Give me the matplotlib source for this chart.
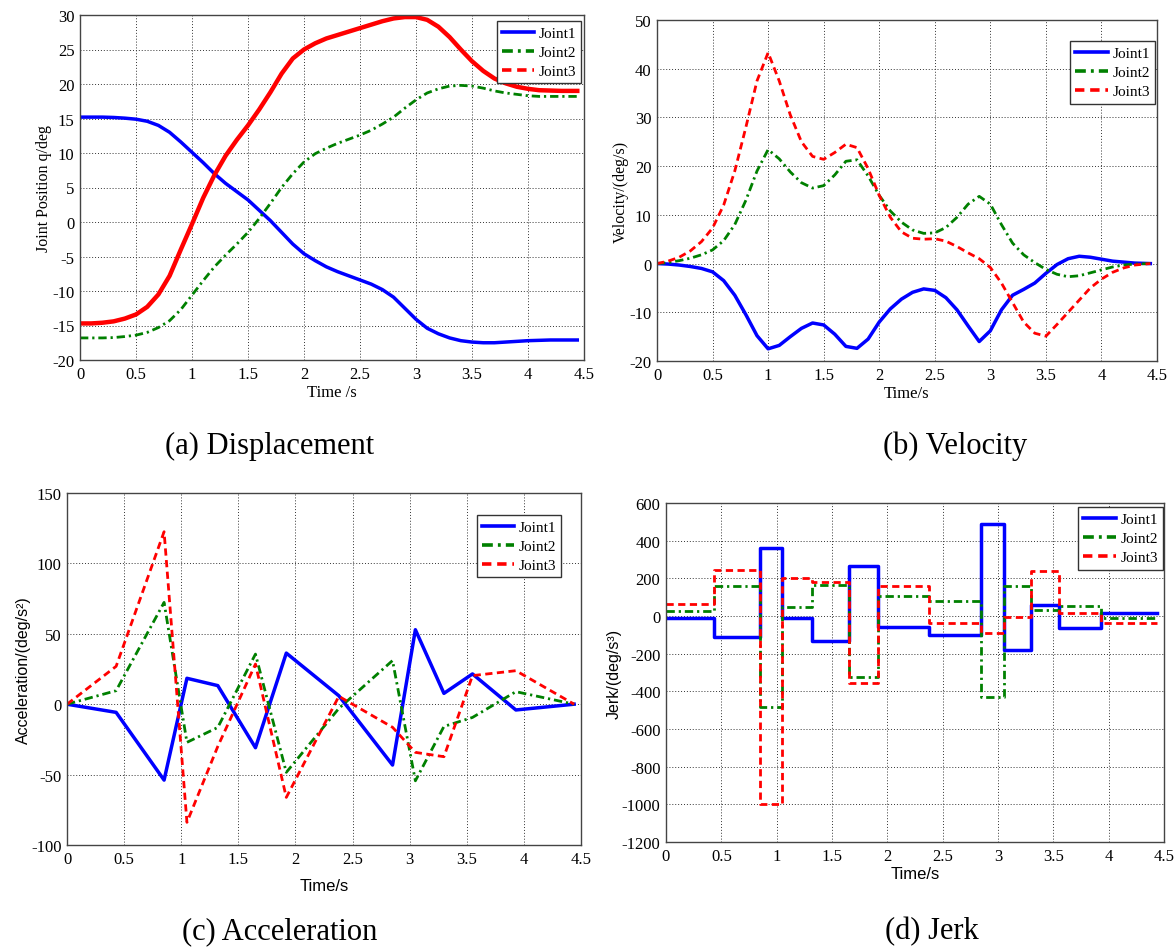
import numpy as np
import matplotlib
matplotlib.use("Agg")
import matplotlib.pyplot as plt
from matplotlib.lines import Line2D
from matplotlib.ticker import FuncFormatter

plt.rcParams['axes.unicode_minus'] = False
SERIF = 'Liberation Serif'
SANS = 'Liberation Sans'

# sample times for the smooth curves (s)
t = [0.0, 0.1, 0.2, 0.3, 0.4, 0.5, 0.6, 0.7, 0.8, 0.9,
     1.0, 1.1, 1.2, 1.3, 1.4, 1.5, 1.6, 1.7, 1.8, 1.9,
     2.0, 2.1, 2.2, 2.3, 2.4, 2.5, 2.6, 2.7, 2.8, 2.9,
     3.0, 3.1, 3.2, 3.3, 3.4, 3.5, 3.6, 3.7, 3.8, 3.9,
     4.0, 4.1, 4.2, 4.3, 4.44]

# joint positions (deg)
q1 = [15.2, 15.2, 15.2, 15.15, 15.05, 14.9, 14.6, 14.0, 13.0, 11.6,
      10.1, 8.6, 7.0, 5.6, 4.4, 3.2, 1.7, 0.2, -1.5, -3.2,
      -4.6, -5.6, -6.5, -7.2, -7.8, -8.4, -9.0, -9.8, -10.9, -12.5,
      -14.1, -15.4, -16.2, -16.8, -17.2, -17.4, -17.5, -17.5, -17.4, -17.3,
      -17.2, -17.15, -17.1, -17.1, -17.1]
q2 = [-16.8, -16.8, -16.8, -16.75, -16.6, -16.4, -16.0, -15.3, -14.3, -12.7,
      -10.6, -8.5, -6.5, -4.8, -3.2, -1.5, 0.5, 2.7, 5.0, 7.0,
      8.7, 9.9, 10.7, 11.4, 12.0, 12.6, 13.3, 14.2, 15.2, 16.5,
      17.7, 18.7, 19.3, 19.7, 19.8, 19.7, 19.4, 19.0, 18.7, 18.5,
      18.3, 18.2, 18.2, 18.2, 18.2]
q3 = [-14.7, -14.7, -14.6, -14.4, -14.0, -13.4, -12.3, -10.5, -7.8, -4.0,
      -0.3, 3.5, 6.8, 9.6, 11.9, 14.0, 16.3, 18.8, 21.5, 23.7,
      25.0, 25.9, 26.6, 27.1, 27.6, 28.1, 28.6, 29.1, 29.5, 29.7,
      29.7, 29.3, 28.3, 26.8, 25.0, 23.3, 21.9, 20.8, 20.1, 19.6,
      19.3, 19.1, 19.05, 19.0, 19.0]

# joint velocities (deg/s)
v1 = [0.0, -0.1, -0.3, -0.6, -1.0, -1.7, -3.5, -6.5, -10.5, -14.8,
      -17.5, -16.8, -15.0, -13.3, -12.2, -12.6, -14.5, -17.0, -17.4, -15.5,
      -12.0, -9.3, -7.3, -5.9, -5.2, -5.5, -7.0, -9.5, -12.8, -16.0,
      -13.8, -9.5, -6.5, -5.3, -4.0, -2.0, -0.2, 1.0, 1.5, 1.3,
      0.9, 0.5, 0.3, 0.1, 0.0]
v2 = [0.0, 0.2, 0.6, 1.1, 1.8, 2.8, 4.7, 8.0, 13.0, 19.0,
      23.4, 21.5, 18.8, 16.6, 15.5, 16.0, 18.2, 21.0, 21.3, 18.0,
      14.0, 10.8, 8.5, 6.9, 6.2, 6.3, 7.4, 9.5, 12.2, 13.8,
      12.2, 8.0, 4.2, 1.8, 0.2, -1.2, -2.2, -2.7, -2.5, -1.9,
      -1.3, -0.7, -0.3, -0.1, 0.0]
v3 = [0.0, 0.5, 1.3, 2.6, 4.5, 7.3, 12.0, 19.0, 28.0, 37.5,
      43.3, 37.5, 30.5, 25.0, 22.0, 21.4, 22.8, 24.5, 23.8, 19.5,
      14.0, 9.5, 6.5, 5.2, 5.0, 5.1, 4.6, 3.5, 2.2, 1.0,
      -0.8, -4.0, -8.0, -12.0, -14.3, -14.9, -12.5, -10.0, -7.5, -5.0,
      -3.2, -1.8, -0.9, -0.3, 0.0]

# knot times of the piecewise trajectory (s)
knots = [0.0, 0.43, 0.85, 1.05, 1.32, 1.65, 1.92, 2.38, 2.85, 3.05,
         3.30, 3.55, 3.93, 4.44]

# accelerations at the knots (deg/s^2)
a1 = [0.0, -5.8, -53.9, 18.4, 13.2, -30.9, 36.3, 6.0, -43.2, 52.9,
      7.7, 21.5, -4.1, 0.0]
a2 = [0.0, 9.6, 72.3, -27.1, -16.5, 35.6, -48.4, -3.0, 31.0, -54.4,
      -15.8, -9.4, 8.9, 0.0]
a3 = [0.0, 26.9, 122.5, -83.9, -30.0, 28.5, -66.2, 5.6, -16.4, -34.2,
      -37.3, 20.3, 23.8, 0.0]

# jerk on each knot interval (deg/s^3)
j1 = [-8, -113, 359, -12, -131, 263, -60, -101, 488, -179, 60, -64, 14]
j2 = [25, 157, -481, 46, 164, -325, 104, 80, -431, 157, 32, 53, -12]
j3 = [64, 244, -1000, 200, 182, -355, 161, -39, -90, -7, 237, 16, -39]

labels = ['Joint1', 'Joint2', 'Joint3']
BLUE, GREEN, RED = '#0000ff', '#008000', '#ff0000'
LW = 2.0
DASH = (2.6, 1.6)
DASHDOT = (3.0, 1.4, 0.8, 1.4)

fig = plt.figure(figsize=(11.76, 9.53), dpi=100)
W, H = 1176, 953


def make_axes(left, right, top, bottom):
    return fig.add_axes([left / W, 1 - bottom / H, (right - left) / W, (bottom - top) / H])


def style_axes(ax, ylim, ystep, xlabel, ylabel, label_font, xpad=2):
    ax.set_xlim(0, 4.5)
    ax.set_ylim(*ylim)
    ax.set_xticks(np.arange(0, 4.51, 0.5))
    ax.set_yticks(np.arange(ylim[0], ylim[1] + 0.1, ystep))
    ax.xaxis.set_major_formatter(FuncFormatter(lambda v, p: '%g' % v))
    ax.yaxis.set_major_formatter(FuncFormatter(lambda v, p: '%g' % v))
    ax.grid(True, color='#333333', linestyle=(0, (1, 2)), linewidth=0.7)
    ax.tick_params(direction='in', length=0, labelsize=12, pad=4)
    for lab in ax.get_xticklabels() + ax.get_yticklabels():
        lab.set_family(SERIF)
    for sp in ax.spines.values():
        sp.set_color('#444444')
        sp.set_linewidth(1.0)
    ax.set_xlabel(xlabel, family=label_font, fontsize=12, labelpad=xpad)
    ax.set_ylabel(ylabel, family=label_font, fontsize=11.5, labelpad=0)


def add_legend(ax, anchor):
    handles = [Line2D([], [], color=BLUE, lw=LW + 0.6),
               Line2D([], [], color=GREEN, lw=LW + 0.6, dashes=DASHDOT),
               Line2D([], [], color=RED, lw=LW + 0.6, dashes=DASH)]
    leg = ax.legend(handles, labels, loc='upper right', bbox_to_anchor=anchor,
                    prop={'family': SERIF, 'size': 11}, fancybox=False,
                    edgecolor='#333333', framealpha=1, handlelength=2.1,
                    handletextpad=0.3, borderpad=0.35, labelspacing=0.35,
                    borderaxespad=0)
    leg.get_frame().set_linewidth(1.0)


# (a) displacement
ax = make_axes(80, 584, 16, 361)
ax.plot(t, q1, color=BLUE, lw=LW + 0.5)
ax.plot(t, q2, color=GREEN, lw=LW, dashes=DASHDOT)
ax.plot(t, q3, color=RED, lw=LW + 1.2)
style_axes(ax, (-20, 30), 5, 'Time /s', 'Joint Position q/deg', SERIF)
add_legend(ax, (0.995, 0.983))

# (b) velocity
ax = make_axes(657, 1157, 21, 362)
ax.plot(t, v1, color=BLUE, lw=LW + 0.5)
ax.plot(t, v2, color=GREEN, lw=LW, dashes=DASHDOT)
ax.plot(t, v3, color=RED, lw=LW, dashes=DASH)
style_axes(ax, (-20, 50), 10, 'Time/s', 'Velocity/(deg/s)', SERIF)
add_legend(ax, (0.996, 0.938))

# (c) acceleration
ax = make_axes(67, 581, 494, 846)
ax.plot(knots, a1, color=BLUE, lw=LW + 0.5)
ax.plot(knots, a2, color=GREEN, lw=LW, dashes=DASHDOT)
ax.plot(knots, a3, color=RED, lw=LW, dashes=DASH)
style_axes(ax, (-100, 150), 50, 'Time/s', 'Acceleration/(deg/s\u00b2)', SANS, xpad=8)
add_legend(ax, (0.962, 0.9375))

# (d) jerk
ax = make_axes(666, 1164, 504, 843)
ax.plot(knots, j1 + j1[-1:], color=BLUE, lw=LW + 0.5, drawstyle='steps-post')
ax.plot(knots, j2 + j2[-1:], color=GREEN, lw=LW, dashes=DASHDOT, drawstyle='steps-post')
ax.plot(knots, j3 + j3[-1:], color=RED, lw=LW, dashes=DASH, drawstyle='steps-post')
style_axes(ax, (-1200, 600), 200, 'Time/s', 'Jerk/(deg/s\u00b3)', SANS)
add_legend(ax, (0.998, 0.988))

# panel captions
cap = {'family': SERIF, 'fontsize': 22, 'ha': 'center', 'va': 'center'}
fig.text(270 / W, 1 - 446 / H, '(a) Displacement', **cap)
fig.text(955 / W, 1 - 446 / H, '(b) Velocity', **cap)
fig.text(280 / W, 1 - 932 / H, '(c) Acceleration', **cap)
fig.text(932 / W, 1 - 932 / H, '(d) Jerk', **cap)

fig.savefig('out.png', dpi=100, facecolor='white')
